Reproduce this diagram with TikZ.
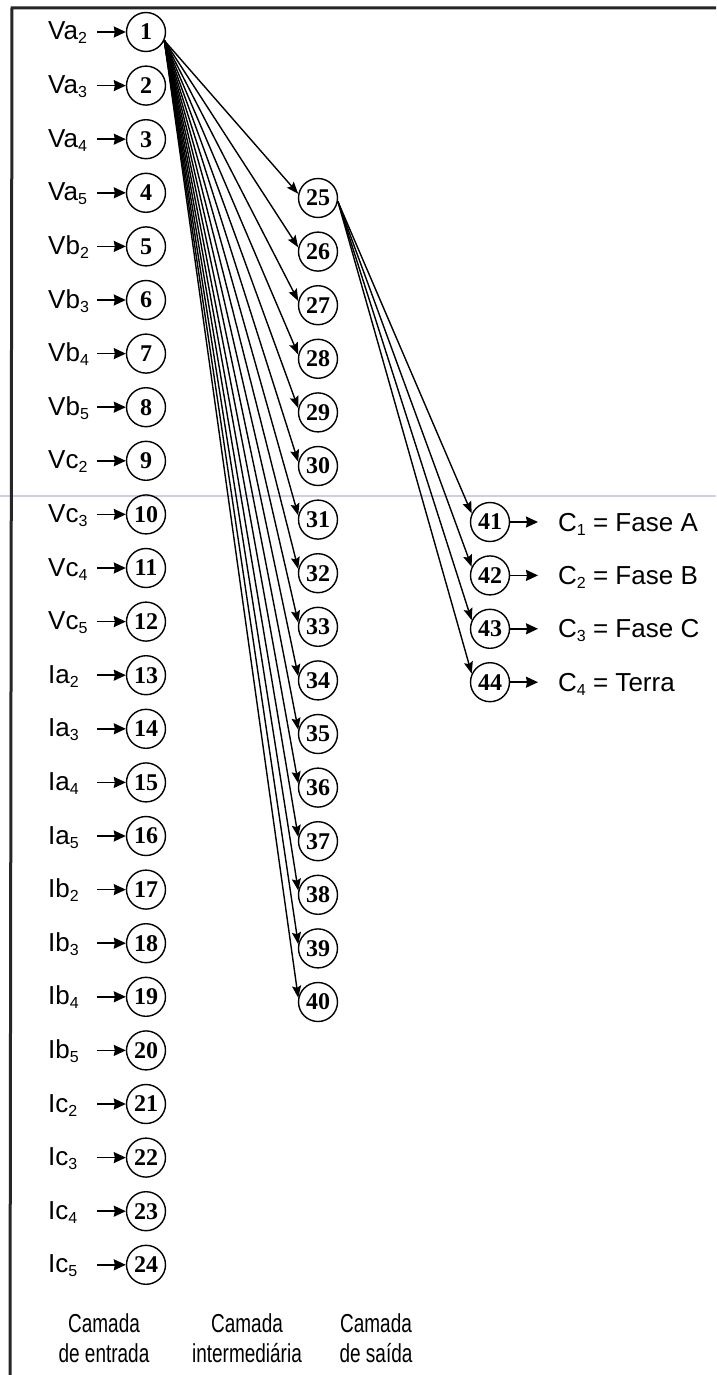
\documentclass[tikz,border=0pt]{standalone}
\usepackage{fontspec}
\setmainfont{Liberation Sans}
\newfontfamily\numfont{Liberation Serif}
\newfontfamily\narrowfont{Liberation Sans}[FakeStretch=0.73]
\usetikzlibrary{arrows.meta}
\newcommand\lowsub[1]{\raisebox{-4pt}{\fontsize{16}{16}\selectfont #1}}
\begin{document}
\begin{tikzpicture}[x=1pt,y=-1pt,
  neuron/.style={circle,draw,line width=1.4pt,minimum size=39pt,inner sep=0pt,
    font=\numfont\bfseries\fontsize{24}{24}\selectfont},
  conn/.style={line width=1.4pt,-{Stealth[length=12pt,width=9pt,inset=2pt]}},
  ioarrow/.style={line width=1.5pt,-{Stealth[length=12pt,width=11pt,inset=1pt]}},
  lab/.style={anchor=base west,inner sep=0pt,font=\fontsize{26}{30}\selectfont},
  layer/.style={align=center,inner sep=0pt,font=\narrowfont\fontsize{26}{30}\selectfont},
  frame/.style={line width=3pt,black!85},
  scanline/.style={line width=2pt,color={rgb,255:red,205;green,208;blue,228}}]
\useasboundingbox (0,0) rectangle (716,1375);
\fill[white] (0,0) rectangle (716,1375);
% frame
\draw[scanline] (0,496) -- (716,496);
\draw[frame] (716,8) -- (12,8) -- (10,1375);
% input layer
\foreach \l [count=\i] in {Va,Vb,Vc,Ia,Ib,Ic}{
  \foreach \s [count=\j] in {2,3,4,5}{
    \pgfmathtruncatemacro\k{(\i-1)*4+\j}
    \node[neuron] (n\k) at (146,{32+53.6*(\k-1)}) {\k};
    \node[lab] (l\k) at (48,{40+53.6*(\k-1)}) {\l\lowsub{\s}};
    \coordinate (s\k) at (97,{32+53.6*(\k-1)});
    \draw[ioarrow] (s\k) -- (n\k.west);
  }
}
% hidden layer
\foreach \k in {25,...,40}{
  \node[neuron] (n\k) at (318,{198+53.6*(\k-25)}) {\k};
  \draw[conn] (n1.-25) -- (n\k.168);
}
% output layer
\foreach \k/\t [count=\i from 0] in {41/{C\lowsub{1} = Fase A},42/{C\lowsub{2} = Fase B},43/{C\lowsub{3} = Fase C},44/{C\lowsub{4} = Terra}}{
  \node[neuron] (n\k) at (490,{522+53.4*\i}) {\k};
  \draw[conn] (n25.-10) -- (n\k.155);
  \coordinate (o\k) at (538,{522+53.4*\i});
  \draw[ioarrow] (n\k.east) -- (o\k);
  \node[lab] (c\k) at (558,{531+53.4*\i}) {\t};
}
% layer captions
\node[layer,anchor=base] (cap1) at (104,1362) {Camada\\de entrada};
\node[layer,anchor=base] (cap2) at (247,1362) {Camada\\intermediária};
\node[layer,anchor=base] (cap3) at (376,1362) {Camada\\de saída};
\end{tikzpicture}
\end{document}
